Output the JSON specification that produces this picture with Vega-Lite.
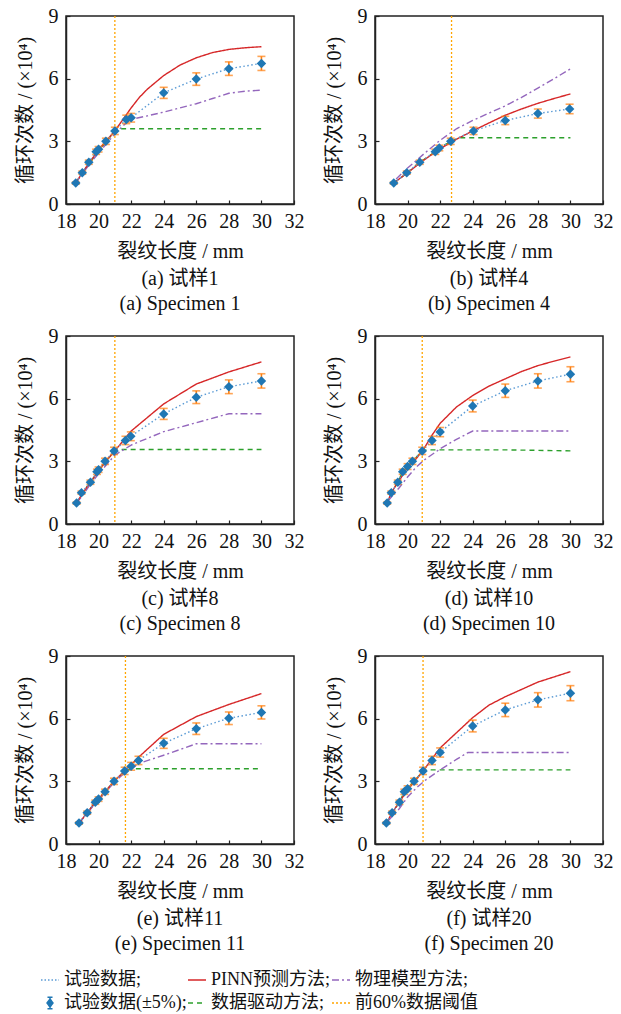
{
"$schema": "https://vega.github.io/schema/vega-lite/v6.json",
"background": "white",
"padding": {"left": 14, "top": 5, "right": 5, "bottom": 5},
"config": {
  "font": "Liberation Serif, Noto Sans CJK SC",
  "view": {"stroke": "#222", "strokeWidth": 1.5},
  "axis": {"labelFontSize": 20, "titleFontSize": 20, "titleFontWeight": "normal", "labelColor": "#111", "titleColor": "#111", "domainColor": "#222", "domainWidth": 1.5, "tickColor": "#222", "tickWidth": 1.2, "grid": false, "labelFont": "Liberation Serif, Noto Sans CJK SC", "titleFont": "Liberation Serif, Noto Sans CJK SC", "labelOverlap": false, "labelBound": false, "labelFlush": false},
  "title": {"orient": "bottom", "anchor": "middle", "fontSize": 20, "fontWeight": "normal", "font": "Liberation Serif, Noto Sans CJK SC", "lineHeight": 25, "offset": 8, "color": "#111"},
  "legend": {"labelFont": "Liberation Serif, Noto Sans CJK SC", "labelColor": "#111"}
},
"datasets": {
  "pts": [
    {"p":"a","x":18.6,"y":1.0,"err":0.05},{"p":"a","x":19.0,"y":1.5,"err":0.075},{"p":"a","x":19.4,"y":2.0,"err":0.1},{"p":"a","x":19.85,"y":2.5,"err":0.125},{"p":"a","x":20.0,"y":2.62,"err":0.131},{"p":"a","x":20.45,"y":3.0,"err":0.15},{"p":"a","x":21.0,"y":3.5,"err":0.175},{"p":"a","x":21.7,"y":4.05,"err":0.203},{"p":"a","x":22.0,"y":4.13,"err":0.207},{"p":"a","x":24.0,"y":5.32,"err":0.266},{"p":"a","x":26.0,"y":5.98,"err":0.299},{"p":"a","x":28.0,"y":6.48,"err":0.324},{"p":"a","x":30.0,"y":6.73,"err":0.337},
    {"p":"b","x":19.15,"y":1.0,"err":0.05},{"p":"b","x":19.95,"y":1.5,"err":0.075},{"p":"b","x":20.75,"y":2.0,"err":0.1},{"p":"b","x":21.7,"y":2.5,"err":0.125},{"p":"b","x":21.95,"y":2.68,"err":0.134},{"p":"b","x":22.65,"y":3.0,"err":0.15},{"p":"b","x":24.05,"y":3.5,"err":0.175},{"p":"b","x":26.0,"y":4.0,"err":0.2},{"p":"b","x":28.0,"y":4.33,"err":0.217},{"p":"b","x":29.95,"y":4.55,"err":0.228},
    {"p":"c","x":18.65,"y":1.0,"err":0.05},{"p":"c","x":18.95,"y":1.5,"err":0.075},{"p":"c","x":19.5,"y":2.0,"err":0.1},{"p":"c","x":19.9,"y":2.5,"err":0.125},{"p":"c","x":20.0,"y":2.6,"err":0.13},{"p":"c","x":20.4,"y":3.0,"err":0.15},{"p":"c","x":20.95,"y":3.5,"err":0.175},{"p":"c","x":21.65,"y":4.0,"err":0.2},{"p":"c","x":21.98,"y":4.2,"err":0.21},{"p":"c","x":24.0,"y":5.27,"err":0.264},{"p":"c","x":26.0,"y":6.07,"err":0.304},{"p":"c","x":28.0,"y":6.57,"err":0.329},{"p":"c","x":30.0,"y":6.85,"err":0.343},
    {"p":"d","x":18.75,"y":1.0,"err":0.05},{"p":"d","x":19.0,"y":1.5,"err":0.075},{"p":"d","x":19.4,"y":2.0,"err":0.1},{"p":"d","x":19.7,"y":2.5,"err":0.125},{"p":"d","x":20.0,"y":2.75,"err":0.138},{"p":"d","x":20.3,"y":3.0,"err":0.15},{"p":"d","x":20.9,"y":3.5,"err":0.175},{"p":"d","x":21.5,"y":4.0,"err":0.2},{"p":"d","x":22.0,"y":4.4,"err":0.22},{"p":"d","x":24.0,"y":5.65,"err":0.283},{"p":"d","x":26.0,"y":6.38,"err":0.319},{"p":"d","x":28.0,"y":6.85,"err":0.343},{"p":"d","x":30.0,"y":7.17,"err":0.359},
    {"p":"e","x":18.8,"y":1.0,"err":0.05},{"p":"e","x":19.3,"y":1.5,"err":0.075},{"p":"e","x":19.8,"y":2.0,"err":0.1},{"p":"e","x":20.0,"y":2.15,"err":0.108},{"p":"e","x":20.4,"y":2.5,"err":0.125},{"p":"e","x":20.95,"y":3.0,"err":0.15},{"p":"e","x":21.6,"y":3.5,"err":0.175},{"p":"e","x":22.0,"y":3.72,"err":0.186},{"p":"e","x":22.45,"y":4.0,"err":0.2},{"p":"e","x":24.0,"y":4.82,"err":0.241},{"p":"e","x":26.0,"y":5.52,"err":0.276},{"p":"e","x":28.0,"y":6.02,"err":0.301},{"p":"e","x":30.0,"y":6.3,"err":0.315},
    {"p":"f","x":18.7,"y":1.0,"err":0.05},{"p":"f","x":19.05,"y":1.5,"err":0.075},{"p":"f","x":19.5,"y":2.0,"err":0.1},{"p":"f","x":19.8,"y":2.5,"err":0.125},{"p":"f","x":20.0,"y":2.65,"err":0.133},{"p":"f","x":20.4,"y":3.0,"err":0.15},{"p":"f","x":20.95,"y":3.5,"err":0.175},{"p":"f","x":21.5,"y":4.0,"err":0.2},{"p":"f","x":22.0,"y":4.38,"err":0.219},{"p":"f","x":24.0,"y":5.65,"err":0.283},{"p":"f","x":26.0,"y":6.42,"err":0.321},{"p":"f","x":28.0,"y":6.9,"err":0.345},{"p":"f","x":30.0,"y":7.22,"err":0.361}
  ],
  "cur": [
    {"p":"a","s":"数据驱动方法;","x":18.6,"y":1.0},{"p":"a","s":"数据驱动方法;","x":19.0,"y":1.5},{"p":"a","s":"数据驱动方法;","x":19.5,"y":2.0},{"p":"a","s":"数据驱动方法;","x":20.0,"y":2.55},{"p":"a","s":"数据驱动方法;","x":20.5,"y":3.0},{"p":"a","s":"数据驱动方法;","x":21.0,"y":3.5},{"p":"a","s":"数据驱动方法;","x":21.3,"y":3.6},{"p":"a","s":"数据驱动方法;","x":30.0,"y":3.6},
    {"p":"a","s":"物理模型方法;","x":18.6,"y":1.0},{"p":"a","s":"物理模型方法;","x":19.0,"y":1.45},{"p":"a","s":"物理模型方法;","x":19.5,"y":1.95},{"p":"a","s":"物理模型方法;","x":20.0,"y":2.45},{"p":"a","s":"物理模型方法;","x":20.5,"y":2.9},{"p":"a","s":"物理模型方法;","x":21.0,"y":3.35},{"p":"a","s":"物理模型方法;","x":21.5,"y":3.75},{"p":"a","s":"物理模型方法;","x":22.0,"y":4.05},{"p":"a","s":"物理模型方法;","x":23.0,"y":4.22},{"p":"a","s":"物理模型方法;","x":24.0,"y":4.4},{"p":"a","s":"物理模型方法;","x":25.0,"y":4.6},{"p":"a","s":"物理模型方法;","x":26.0,"y":4.8},{"p":"a","s":"物理模型方法;","x":27.0,"y":5.05},{"p":"a","s":"物理模型方法;","x":28.0,"y":5.3},{"p":"a","s":"物理模型方法;","x":29.0,"y":5.4},{"p":"a","s":"物理模型方法;","x":30.0,"y":5.45},
    {"p":"a","s":"PINN预测方法;","x":18.6,"y":1.0},{"p":"a","s":"PINN预测方法;","x":19.0,"y":1.5},{"p":"a","s":"PINN预测方法;","x":19.5,"y":2.05},{"p":"a","s":"PINN预测方法;","x":20.0,"y":2.6},{"p":"a","s":"PINN预测方法;","x":20.5,"y":3.05},{"p":"a","s":"PINN预测方法;","x":21.0,"y":3.5},{"p":"a","s":"PINN预测方法;","x":21.5,"y":4.05},{"p":"a","s":"PINN预测方法;","x":22.0,"y":4.6},{"p":"a","s":"PINN预测方法;","x":22.5,"y":5.1},{"p":"a","s":"PINN预测方法;","x":23.0,"y":5.5},{"p":"a","s":"PINN预测方法;","x":24.0,"y":6.15},{"p":"a","s":"PINN预测方法;","x":25.0,"y":6.65},{"p":"a","s":"PINN预测方法;","x":26.0,"y":7.0},{"p":"a","s":"PINN预测方法;","x":27.0,"y":7.25},{"p":"a","s":"PINN预测方法;","x":28.0,"y":7.4},{"p":"a","s":"PINN预测方法;","x":29.0,"y":7.48},{"p":"a","s":"PINN预测方法;","x":30.0,"y":7.53},

    {"p":"b","s":"数据驱动方法;","x":19.15,"y":1.0},{"p":"b","s":"数据驱动方法;","x":20.0,"y":1.5},{"p":"b","s":"数据驱动方法;","x":20.75,"y":2.0},{"p":"b","s":"数据驱动方法;","x":21.7,"y":2.5},{"p":"b","s":"数据驱动方法;","x":22.0,"y":2.7},{"p":"b","s":"数据驱动方法;","x":22.65,"y":3.0},{"p":"b","s":"数据驱动方法;","x":23.2,"y":3.17},{"p":"b","s":"数据驱动方法;","x":30.0,"y":3.17},
    {"p":"b","s":"物理模型方法;","x":19.3,"y":1.2},{"p":"b","s":"物理模型方法;","x":20.0,"y":1.72},{"p":"b","s":"物理模型方法;","x":21.0,"y":2.4},{"p":"b","s":"物理模型方法;","x":22.0,"y":3.05},{"p":"b","s":"物理模型方法;","x":23.0,"y":3.6},{"p":"b","s":"物理模型方法;","x":24.0,"y":4.0},{"p":"b","s":"物理模型方法;","x":25.0,"y":4.35},{"p":"b","s":"物理模型方法;","x":26.0,"y":4.7},{"p":"b","s":"物理模型方法;","x":27.0,"y":5.1},{"p":"b","s":"物理模型方法;","x":28.0,"y":5.55},{"p":"b","s":"物理模型方法;","x":29.0,"y":6.0},{"p":"b","s":"物理模型方法;","x":30.0,"y":6.47},
    {"p":"b","s":"PINN预测方法;","x":19.15,"y":1.0},{"p":"b","s":"PINN预测方法;","x":20.0,"y":1.5},{"p":"b","s":"PINN预测方法;","x":21.0,"y":2.1},{"p":"b","s":"PINN预测方法;","x":22.0,"y":2.65},{"p":"b","s":"PINN预测方法;","x":23.0,"y":3.1},{"p":"b","s":"PINN预测方法;","x":24.0,"y":3.5},{"p":"b","s":"PINN预测方法;","x":25.0,"y":3.88},{"p":"b","s":"PINN预测方法;","x":26.0,"y":4.25},{"p":"b","s":"PINN预测方法;","x":27.0,"y":4.55},{"p":"b","s":"PINN预测方法;","x":28.0,"y":4.82},{"p":"b","s":"PINN预测方法;","x":29.0,"y":5.05},{"p":"b","s":"PINN预测方法;","x":30.0,"y":5.27},

    {"p":"c","s":"数据驱动方法;","x":18.65,"y":1.0},{"p":"c","s":"数据驱动方法;","x":19.0,"y":1.5},{"p":"c","s":"数据驱动方法;","x":19.5,"y":2.0},{"p":"c","s":"数据驱动方法;","x":20.0,"y":2.55},{"p":"c","s":"数据驱动方法;","x":20.5,"y":3.05},{"p":"c","s":"数据驱动方法;","x":21.0,"y":3.5},{"p":"c","s":"数据驱动方法;","x":21.2,"y":3.57},{"p":"c","s":"数据驱动方法;","x":30.0,"y":3.57},
    {"p":"c","s":"物理模型方法;","x":18.65,"y":1.0},{"p":"c","s":"物理模型方法;","x":19.0,"y":1.35},{"p":"c","s":"物理模型方法;","x":19.5,"y":1.9},{"p":"c","s":"物理模型方法;","x":20.0,"y":2.4},{"p":"c","s":"物理模型方法;","x":20.5,"y":2.85},{"p":"c","s":"物理模型方法;","x":21.0,"y":3.3},{"p":"c","s":"物理模型方法;","x":22.0,"y":3.78},{"p":"c","s":"物理模型方法;","x":24.0,"y":4.42},{"p":"c","s":"物理模型方法;","x":26.0,"y":4.85},{"p":"c","s":"物理模型方法;","x":28.0,"y":5.28},{"p":"c","s":"物理模型方法;","x":30.0,"y":5.28},
    {"p":"c","s":"PINN预测方法;","x":18.65,"y":1.0},{"p":"c","s":"PINN预测方法;","x":19.0,"y":1.45},{"p":"c","s":"PINN预测方法;","x":19.5,"y":2.0},{"p":"c","s":"PINN预测方法;","x":20.0,"y":2.55},{"p":"c","s":"PINN预测方法;","x":20.5,"y":3.05},{"p":"c","s":"PINN预测方法;","x":21.0,"y":3.5},{"p":"c","s":"PINN预测方法;","x":22.0,"y":4.45},{"p":"c","s":"PINN预测方法;","x":24.0,"y":5.75},{"p":"c","s":"PINN预测方法;","x":26.0,"y":6.7},{"p":"c","s":"PINN预测方法;","x":28.0,"y":7.28},{"p":"c","s":"PINN预测方法;","x":30.0,"y":7.76},

    {"p":"d","s":"数据驱动方法;","x":18.75,"y":1.0},{"p":"d","s":"数据驱动方法;","x":19.0,"y":1.5},{"p":"d","s":"数据驱动方法;","x":19.4,"y":2.0},{"p":"d","s":"数据驱动方法;","x":19.7,"y":2.5},{"p":"d","s":"数据驱动方法;","x":20.0,"y":2.75},{"p":"d","s":"数据驱动方法;","x":20.3,"y":3.0},{"p":"d","s":"数据驱动方法;","x":20.9,"y":3.5},{"p":"d","s":"数据驱动方法;","x":21.2,"y":3.55},{"p":"d","s":"数据驱动方法;","x":26.0,"y":3.55},{"p":"d","s":"数据驱动方法;","x":30.0,"y":3.5},
    {"p":"d","s":"物理模型方法;","x":18.8,"y":1.1},{"p":"d","s":"物理模型方法;","x":19.5,"y":1.75},{"p":"d","s":"物理模型方法;","x":20.0,"y":2.25},{"p":"d","s":"物理模型方法;","x":20.5,"y":2.7},{"p":"d","s":"物理模型方法;","x":21.0,"y":3.05},{"p":"d","s":"物理模型方法;","x":22.0,"y":3.6},{"p":"d","s":"物理模型方法;","x":23.0,"y":4.05},{"p":"d","s":"物理模型方法;","x":24.0,"y":4.45},{"p":"d","s":"物理模型方法;","x":30.0,"y":4.45},
    {"p":"d","s":"PINN预测方法;","x":18.75,"y":1.0},{"p":"d","s":"PINN预测方法;","x":19.0,"y":1.5},{"p":"d","s":"PINN预测方法;","x":19.5,"y":2.1},{"p":"d","s":"PINN预测方法;","x":20.0,"y":2.7},{"p":"d","s":"PINN预测方法;","x":20.5,"y":3.1},{"p":"d","s":"PINN预测方法;","x":21.0,"y":3.6},{"p":"d","s":"PINN预测方法;","x":21.5,"y":4.25},{"p":"d","s":"PINN预测方法;","x":22.0,"y":4.82},{"p":"d","s":"PINN预测方法;","x":23.0,"y":5.6},{"p":"d","s":"PINN预测方法;","x":24.0,"y":6.15},{"p":"d","s":"PINN预测方法;","x":25.0,"y":6.6},{"p":"d","s":"PINN预测方法;","x":26.0,"y":6.95},{"p":"d","s":"PINN预测方法;","x":27.0,"y":7.3},{"p":"d","s":"PINN预测方法;","x":28.0,"y":7.58},{"p":"d","s":"PINN预测方法;","x":29.0,"y":7.8},{"p":"d","s":"PINN预测方法;","x":30.0,"y":8.0},

    {"p":"e","s":"数据驱动方法;","x":18.8,"y":1.0},{"p":"e","s":"数据驱动方法;","x":19.3,"y":1.5},{"p":"e","s":"数据驱动方法;","x":19.8,"y":2.0},{"p":"e","s":"数据驱动方法;","x":20.4,"y":2.5},{"p":"e","s":"数据驱动方法;","x":20.95,"y":3.0},{"p":"e","s":"数据驱动方法;","x":21.6,"y":3.5},{"p":"e","s":"数据驱动方法;","x":22.0,"y":3.6},{"p":"e","s":"数据驱动方法;","x":30.0,"y":3.6},
    {"p":"e","s":"物理模型方法;","x":18.8,"y":1.0},{"p":"e","s":"物理模型方法;","x":19.3,"y":1.45},{"p":"e","s":"物理模型方法;","x":19.8,"y":1.95},{"p":"e","s":"物理模型方法;","x":20.4,"y":2.45},{"p":"e","s":"物理模型方法;","x":20.95,"y":2.95},{"p":"e","s":"物理模型方法;","x":21.6,"y":3.4},{"p":"e","s":"物理模型方法;","x":22.0,"y":3.6},{"p":"e","s":"物理模型方法;","x":22.45,"y":3.85},{"p":"e","s":"物理模型方法;","x":24.0,"y":4.25},{"p":"e","s":"物理模型方法;","x":26.0,"y":4.8},{"p":"e","s":"物理模型方法;","x":30.0,"y":4.8},
    {"p":"e","s":"PINN预测方法;","x":18.8,"y":1.0},{"p":"e","s":"PINN预测方法;","x":19.3,"y":1.5},{"p":"e","s":"PINN预测方法;","x":19.8,"y":2.0},{"p":"e","s":"PINN预测方法;","x":20.4,"y":2.5},{"p":"e","s":"PINN预测方法;","x":20.95,"y":3.0},{"p":"e","s":"PINN预测方法;","x":21.6,"y":3.5},{"p":"e","s":"PINN预测方法;","x":22.0,"y":3.8},{"p":"e","s":"PINN预测方法;","x":22.45,"y":4.15},{"p":"e","s":"PINN预测方法;","x":24.0,"y":5.25},{"p":"e","s":"PINN预测方法;","x":26.0,"y":6.1},{"p":"e","s":"PINN预测方法;","x":28.0,"y":6.68},{"p":"e","s":"PINN预测方法;","x":30.0,"y":7.2},

    {"p":"f","s":"数据驱动方法;","x":18.7,"y":1.0},{"p":"f","s":"数据驱动方法;","x":19.05,"y":1.5},{"p":"f","s":"数据驱动方法;","x":19.5,"y":2.0},{"p":"f","s":"数据驱动方法;","x":19.8,"y":2.5},{"p":"f","s":"数据驱动方法;","x":20.4,"y":3.0},{"p":"f","s":"数据驱动方法;","x":20.95,"y":3.5},{"p":"f","s":"数据驱动方法;","x":21.2,"y":3.55},{"p":"f","s":"数据驱动方法;","x":30.0,"y":3.55},
    {"p":"f","s":"物理模型方法;","x":18.8,"y":1.1},{"p":"f","s":"物理模型方法;","x":19.5,"y":1.7},{"p":"f","s":"物理模型方法;","x":20.0,"y":2.25},{"p":"f","s":"物理模型方法;","x":20.5,"y":2.65},{"p":"f","s":"物理模型方法;","x":21.0,"y":3.0},{"p":"f","s":"物理模型方法;","x":22.0,"y":3.55},{"p":"f","s":"物理模型方法;","x":23.0,"y":4.05},{"p":"f","s":"物理模型方法;","x":23.7,"y":4.38},{"p":"f","s":"物理模型方法;","x":30.0,"y":4.38},
    {"p":"f","s":"PINN预测方法;","x":18.7,"y":1.0},{"p":"f","s":"PINN预测方法;","x":19.05,"y":1.5},{"p":"f","s":"PINN预测方法;","x":19.5,"y":2.0},{"p":"f","s":"PINN预测方法;","x":20.0,"y":2.6},{"p":"f","s":"PINN预测方法;","x":20.5,"y":3.05},{"p":"f","s":"PINN预测方法;","x":21.0,"y":3.55},{"p":"f","s":"PINN预测方法;","x":22.0,"y":4.6},{"p":"f","s":"PINN预测方法;","x":24.0,"y":6.05},{"p":"f","s":"PINN预测方法;","x":25.0,"y":6.65},{"p":"f","s":"PINN预测方法;","x":26.0,"y":7.05},{"p":"f","s":"PINN预测方法;","x":28.0,"y":7.75},{"p":"f","s":"PINN预测方法;","x":30.0,"y":8.25}
  ],
  "thr": [
    {"p":"a","x":21.0},{"p":"b","x":22.7},{"p":"c","x":21.0},{"p":"d","x":20.9},{"p":"e","x":21.65},{"p":"f","x":20.95}
  ]
},
"spacing": 10,
"resolve": {"scale": {"color": "shared", "strokeDash": "shared"}},
"vconcat": [
 {"spacing": 18, "hconcat": [
  {"title": {"text": ["(a) 试样1", "(a) Specimen 1"]}, "width": 228, "height": 188,
   "encoding": {"x": {"field": "x", "type": "quantitative", "title": "裂纹长度 / mm", "scale": {"domain": [18, 32], "nice": false, "zero": false}, "axis": {"values": [18,20,22,24,26,28,30,32], "tickSize": -4, "labelPadding": 11, "titlePadding": 10, "labelOverlap": false}}},
   "layer": [
   {"data": {"name": "cur"}, "transform": [{"filter": "datum.p === 'a'"}], "mark": {"type": "line", "strokeWidth": 1.4},
    "encoding": {
     "y": {"field": "y", "type": "quantitative", "title": "循环次数 / (×10⁴)", "scale": {"domain": [0, 9], "nice": false, "zero": false}, "axis": {"values": [0,3,6,9], "tickSize": -4, "labelPadding": 12, "titlePadding": 13, "labelOverlap": false}},
     "detail": {"field": "s"},
     "color": {"field": "s", "type": "nominal", "scale": {"domain": ["试验数据;", "PINN预测方法;", "物理模型方法;", "试验数据(±5%);", "数据驱动方法;", "前60%数据阈值"], "range": ["#5b9bd5", "#d62728", "#9467bd", "#1f77b4", "#2ca02c", "#ffa500"]},
       "legend": {"orient": "none", "legendX": -26, "legendY": 954, "direction": "horizontal", "columns": 3, "gridAlign": "each", "title": null, "labelFontSize": 18, "symbolSize": 324, "symbolStrokeWidth": 1.5, "symbolType": "stroke", "labelOffset": 4, "columnPadding": -2, "rowPadding": 4,
         "encode": {"symbols": {"update": {
           "shape": {"signal": "datum.value === '试验数据(±5%);' ? 'M0,-0.65V0.65M-0.28,-0.65H0.28M-0.28,0.65H0.28M0,-0.45L0.33,0L0,0.45L-0.33,0Z' : 'stroke'"},
           "fill": {"signal": "datum.value === '试验数据(±5%);' ? '#1f77b4' : 'transparent'"},
           "stroke": [{"test": "datum.value === '试验数据(±5%);'", "value": "#ff7f0e"}, {"scale": "color", "field": "value"}]
         }}}}},
     "strokeDash": {"field": "s", "type": "nominal", "scale": {"domain": ["试验数据;", "PINN预测方法;", "物理模型方法;", "试验数据(±5%);", "数据驱动方法;", "前60%数据阈值"], "range": [[1.5,2], [1,0], [7,3,2,3], [1,0], [5,4], [2,2]]}, "legend": null}
    }},
   {"data": {"name": "thr"}, "transform": [{"filter": "datum.p === 'a'"}], "mark": {"type": "rule", "color": "#ffa500", "strokeDash": [2,2], "strokeWidth": 1.3}},
   {"data": {"name": "pts"}, "transform": [{"filter": "datum.p === 'a'"}], "mark": {"type": "line", "color": "#5b9bd5", "strokeDash": [1.5,2.5], "strokeWidth": 1.4}, "encoding": {"y": {"field": "y", "type": "quantitative", "title": "循环次数 / (×10⁴)"}}},
   {"data": {"name": "pts"}, "transform": [{"filter": "datum.p === 'a'"}], "mark": {"type": "errorbar", "color": "#ff7f0e", "thickness": 1.6, "ticks": {"size": 8, "thickness": 1.6}}, "encoding": {"y": {"field": "y", "type": "quantitative", "title": "循环次数 / (×10⁴)"}, "yError": {"field": "err"}}},
   {"data": {"name": "pts"}, "transform": [{"filter": "datum.p === 'a'"}], "mark": {"type": "point", "shape": "diamond", "filled": true, "size": 90, "color": "#1f77b4", "opacity": 1}, "encoding": {"y": {"field": "y", "type": "quantitative", "title": "循环次数 / (×10⁴)"}}}
  ]},
  {"title": {"text": ["(b) 试样4", "(b) Specimen 4"]}, "width": 228, "height": 188,
   "encoding": {"x": {"field": "x", "type": "quantitative", "title": "裂纹长度 / mm", "scale": {"domain": [18, 32], "nice": false, "zero": false}, "axis": {"values": [18,20,22,24,26,28,30,32], "tickSize": -4, "labelPadding": 11, "titlePadding": 10, "labelOverlap": false}}},
   "layer": [
   {"data": {"name": "cur"}, "transform": [{"filter": "datum.p === 'b'"}], "mark": {"type": "line", "strokeWidth": 1.4},
    "encoding": {"y": {"field": "y", "type": "quantitative", "title": "循环次数 / (×10⁴)", "scale": {"domain": [0, 9], "nice": false, "zero": false}, "axis": {"values": [0,3,6,9], "tickSize": -4, "labelPadding": 12, "titlePadding": 13, "labelOverlap": false}}, "detail": {"field": "s"}, "color": {"field": "s", "type": "nominal"}, "strokeDash": {"field": "s", "type": "nominal", "legend": null}}},
   {"data": {"name": "thr"}, "transform": [{"filter": "datum.p === 'b'"}], "mark": {"type": "rule", "color": "#ffa500", "strokeDash": [2,2], "strokeWidth": 1.3}},
   {"data": {"name": "pts"}, "transform": [{"filter": "datum.p === 'b'"}], "mark": {"type": "line", "color": "#5b9bd5", "strokeDash": [1.5,2.5], "strokeWidth": 1.4}, "encoding": {"y": {"field": "y", "type": "quantitative", "title": "循环次数 / (×10⁴)"}}},
   {"data": {"name": "pts"}, "transform": [{"filter": "datum.p === 'b'"}], "mark": {"type": "errorbar", "color": "#ff7f0e", "thickness": 1.6, "ticks": {"size": 8, "thickness": 1.6}}, "encoding": {"y": {"field": "y", "type": "quantitative", "title": "循环次数 / (×10⁴)"}, "yError": {"field": "err"}}},
   {"data": {"name": "pts"}, "transform": [{"filter": "datum.p === 'b'"}], "mark": {"type": "point", "shape": "diamond", "filled": true, "size": 90, "color": "#1f77b4", "opacity": 1}, "encoding": {"y": {"field": "y", "type": "quantitative", "title": "循环次数 / (×10⁴)"}}}
  ]}
 ]},
 {"spacing": 18, "hconcat": [
  {"title": {"text": ["(c) 试样8", "(c) Specimen 8"]}, "width": 228, "height": 188,
   "encoding": {"x": {"field": "x", "type": "quantitative", "title": "裂纹长度 / mm", "scale": {"domain": [18, 32], "nice": false, "zero": false}, "axis": {"values": [18,20,22,24,26,28,30,32], "tickSize": -4, "labelPadding": 11, "titlePadding": 10, "labelOverlap": false}}},
   "layer": [
   {"data": {"name": "cur"}, "transform": [{"filter": "datum.p === 'c'"}], "mark": {"type": "line", "strokeWidth": 1.4},
    "encoding": {"y": {"field": "y", "type": "quantitative", "title": "循环次数 / (×10⁴)", "scale": {"domain": [0, 9], "nice": false, "zero": false}, "axis": {"values": [0,3,6,9], "tickSize": -4, "labelPadding": 12, "titlePadding": 13, "labelOverlap": false}}, "detail": {"field": "s"}, "color": {"field": "s", "type": "nominal"}, "strokeDash": {"field": "s", "type": "nominal", "legend": null}}},
   {"data": {"name": "thr"}, "transform": [{"filter": "datum.p === 'c'"}], "mark": {"type": "rule", "color": "#ffa500", "strokeDash": [2,2], "strokeWidth": 1.3}},
   {"data": {"name": "pts"}, "transform": [{"filter": "datum.p === 'c'"}], "mark": {"type": "line", "color": "#5b9bd5", "strokeDash": [1.5,2.5], "strokeWidth": 1.4}, "encoding": {"y": {"field": "y", "type": "quantitative", "title": "循环次数 / (×10⁴)"}}},
   {"data": {"name": "pts"}, "transform": [{"filter": "datum.p === 'c'"}], "mark": {"type": "errorbar", "color": "#ff7f0e", "thickness": 1.6, "ticks": {"size": 8, "thickness": 1.6}}, "encoding": {"y": {"field": "y", "type": "quantitative", "title": "循环次数 / (×10⁴)"}, "yError": {"field": "err"}}},
   {"data": {"name": "pts"}, "transform": [{"filter": "datum.p === 'c'"}], "mark": {"type": "point", "shape": "diamond", "filled": true, "size": 90, "color": "#1f77b4", "opacity": 1}, "encoding": {"y": {"field": "y", "type": "quantitative", "title": "循环次数 / (×10⁴)"}}}
  ]},
  {"title": {"text": ["(d) 试样10", "(d) Specimen 10"]}, "width": 228, "height": 188,
   "encoding": {"x": {"field": "x", "type": "quantitative", "title": "裂纹长度 / mm", "scale": {"domain": [18, 32], "nice": false, "zero": false}, "axis": {"values": [18,20,22,24,26,28,30,32], "tickSize": -4, "labelPadding": 11, "titlePadding": 10, "labelOverlap": false}}},
   "layer": [
   {"data": {"name": "cur"}, "transform": [{"filter": "datum.p === 'd'"}], "mark": {"type": "line", "strokeWidth": 1.4},
    "encoding": {"y": {"field": "y", "type": "quantitative", "title": "循环次数 / (×10⁴)", "scale": {"domain": [0, 9], "nice": false, "zero": false}, "axis": {"values": [0,3,6,9], "tickSize": -4, "labelPadding": 12, "titlePadding": 13, "labelOverlap": false}}, "detail": {"field": "s"}, "color": {"field": "s", "type": "nominal"}, "strokeDash": {"field": "s", "type": "nominal", "legend": null}}},
   {"data": {"name": "thr"}, "transform": [{"filter": "datum.p === 'd'"}], "mark": {"type": "rule", "color": "#ffa500", "strokeDash": [2,2], "strokeWidth": 1.3}},
   {"data": {"name": "pts"}, "transform": [{"filter": "datum.p === 'd'"}], "mark": {"type": "line", "color": "#5b9bd5", "strokeDash": [1.5,2.5], "strokeWidth": 1.4}, "encoding": {"y": {"field": "y", "type": "quantitative", "title": "循环次数 / (×10⁴)"}}},
   {"data": {"name": "pts"}, "transform": [{"filter": "datum.p === 'd'"}], "mark": {"type": "errorbar", "color": "#ff7f0e", "thickness": 1.6, "ticks": {"size": 8, "thickness": 1.6}}, "encoding": {"y": {"field": "y", "type": "quantitative", "title": "循环次数 / (×10⁴)"}, "yError": {"field": "err"}}},
   {"data": {"name": "pts"}, "transform": [{"filter": "datum.p === 'd'"}], "mark": {"type": "point", "shape": "diamond", "filled": true, "size": 90, "color": "#1f77b4", "opacity": 1}, "encoding": {"y": {"field": "y", "type": "quantitative", "title": "循环次数 / (×10⁴)"}}}
  ]}
 ]},
 {"spacing": 18, "hconcat": [
  {"title": {"text": ["(e) 试样11", "(e) Specimen 11"]}, "width": 228, "height": 188,
   "encoding": {"x": {"field": "x", "type": "quantitative", "title": "裂纹长度 / mm", "scale": {"domain": [18, 32], "nice": false, "zero": false}, "axis": {"values": [18,20,22,24,26,28,30,32], "tickSize": -4, "labelPadding": 11, "titlePadding": 10, "labelOverlap": false}}},
   "layer": [
   {"data": {"name": "cur"}, "transform": [{"filter": "datum.p === 'e'"}], "mark": {"type": "line", "strokeWidth": 1.4},
    "encoding": {"y": {"field": "y", "type": "quantitative", "title": "循环次数 / (×10⁴)", "scale": {"domain": [0, 9], "nice": false, "zero": false}, "axis": {"values": [0,3,6,9], "tickSize": -4, "labelPadding": 12, "titlePadding": 13, "labelOverlap": false}}, "detail": {"field": "s"}, "color": {"field": "s", "type": "nominal"}, "strokeDash": {"field": "s", "type": "nominal", "legend": null}}},
   {"data": {"name": "thr"}, "transform": [{"filter": "datum.p === 'e'"}], "mark": {"type": "rule", "color": "#ffa500", "strokeDash": [2,2], "strokeWidth": 1.3}},
   {"data": {"name": "pts"}, "transform": [{"filter": "datum.p === 'e'"}], "mark": {"type": "line", "color": "#5b9bd5", "strokeDash": [1.5,2.5], "strokeWidth": 1.4}, "encoding": {"y": {"field": "y", "type": "quantitative", "title": "循环次数 / (×10⁴)"}}},
   {"data": {"name": "pts"}, "transform": [{"filter": "datum.p === 'e'"}], "mark": {"type": "errorbar", "color": "#ff7f0e", "thickness": 1.6, "ticks": {"size": 8, "thickness": 1.6}}, "encoding": {"y": {"field": "y", "type": "quantitative", "title": "循环次数 / (×10⁴)"}, "yError": {"field": "err"}}},
   {"data": {"name": "pts"}, "transform": [{"filter": "datum.p === 'e'"}], "mark": {"type": "point", "shape": "diamond", "filled": true, "size": 90, "color": "#1f77b4", "opacity": 1}, "encoding": {"y": {"field": "y", "type": "quantitative", "title": "循环次数 / (×10⁴)"}}}
  ]},
  {"title": {"text": ["(f) 试样20", "(f) Specimen 20"]}, "width": 228, "height": 188,
   "encoding": {"x": {"field": "x", "type": "quantitative", "title": "裂纹长度 / mm", "scale": {"domain": [18, 32], "nice": false, "zero": false}, "axis": {"values": [18,20,22,24,26,28,30,32], "tickSize": -4, "labelPadding": 11, "titlePadding": 10, "labelOverlap": false}}},
   "layer": [
   {"data": {"name": "cur"}, "transform": [{"filter": "datum.p === 'f'"}], "mark": {"type": "line", "strokeWidth": 1.4},
    "encoding": {"y": {"field": "y", "type": "quantitative", "title": "循环次数 / (×10⁴)", "scale": {"domain": [0, 9], "nice": false, "zero": false}, "axis": {"values": [0,3,6,9], "tickSize": -4, "labelPadding": 12, "titlePadding": 13, "labelOverlap": false}}, "detail": {"field": "s"}, "color": {"field": "s", "type": "nominal"}, "strokeDash": {"field": "s", "type": "nominal", "legend": null}}},
   {"data": {"name": "thr"}, "transform": [{"filter": "datum.p === 'f'"}], "mark": {"type": "rule", "color": "#ffa500", "strokeDash": [2,2], "strokeWidth": 1.3}},
   {"data": {"name": "pts"}, "transform": [{"filter": "datum.p === 'f'"}], "mark": {"type": "line", "color": "#5b9bd5", "strokeDash": [1.5,2.5], "strokeWidth": 1.4}, "encoding": {"y": {"field": "y", "type": "quantitative", "title": "循环次数 / (×10⁴)"}}},
   {"data": {"name": "pts"}, "transform": [{"filter": "datum.p === 'f'"}], "mark": {"type": "errorbar", "color": "#ff7f0e", "thickness": 1.6, "ticks": {"size": 8, "thickness": 1.6}}, "encoding": {"y": {"field": "y", "type": "quantitative", "title": "循环次数 / (×10⁴)"}, "yError": {"field": "err"}}},
   {"data": {"name": "pts"}, "transform": [{"filter": "datum.p === 'f'"}], "mark": {"type": "point", "shape": "diamond", "filled": true, "size": 90, "color": "#1f77b4", "opacity": 1}, "encoding": {"y": {"field": "y", "type": "quantitative", "title": "循环次数 / (×10⁴)"}}}
  ]}
 ]}
]
}
